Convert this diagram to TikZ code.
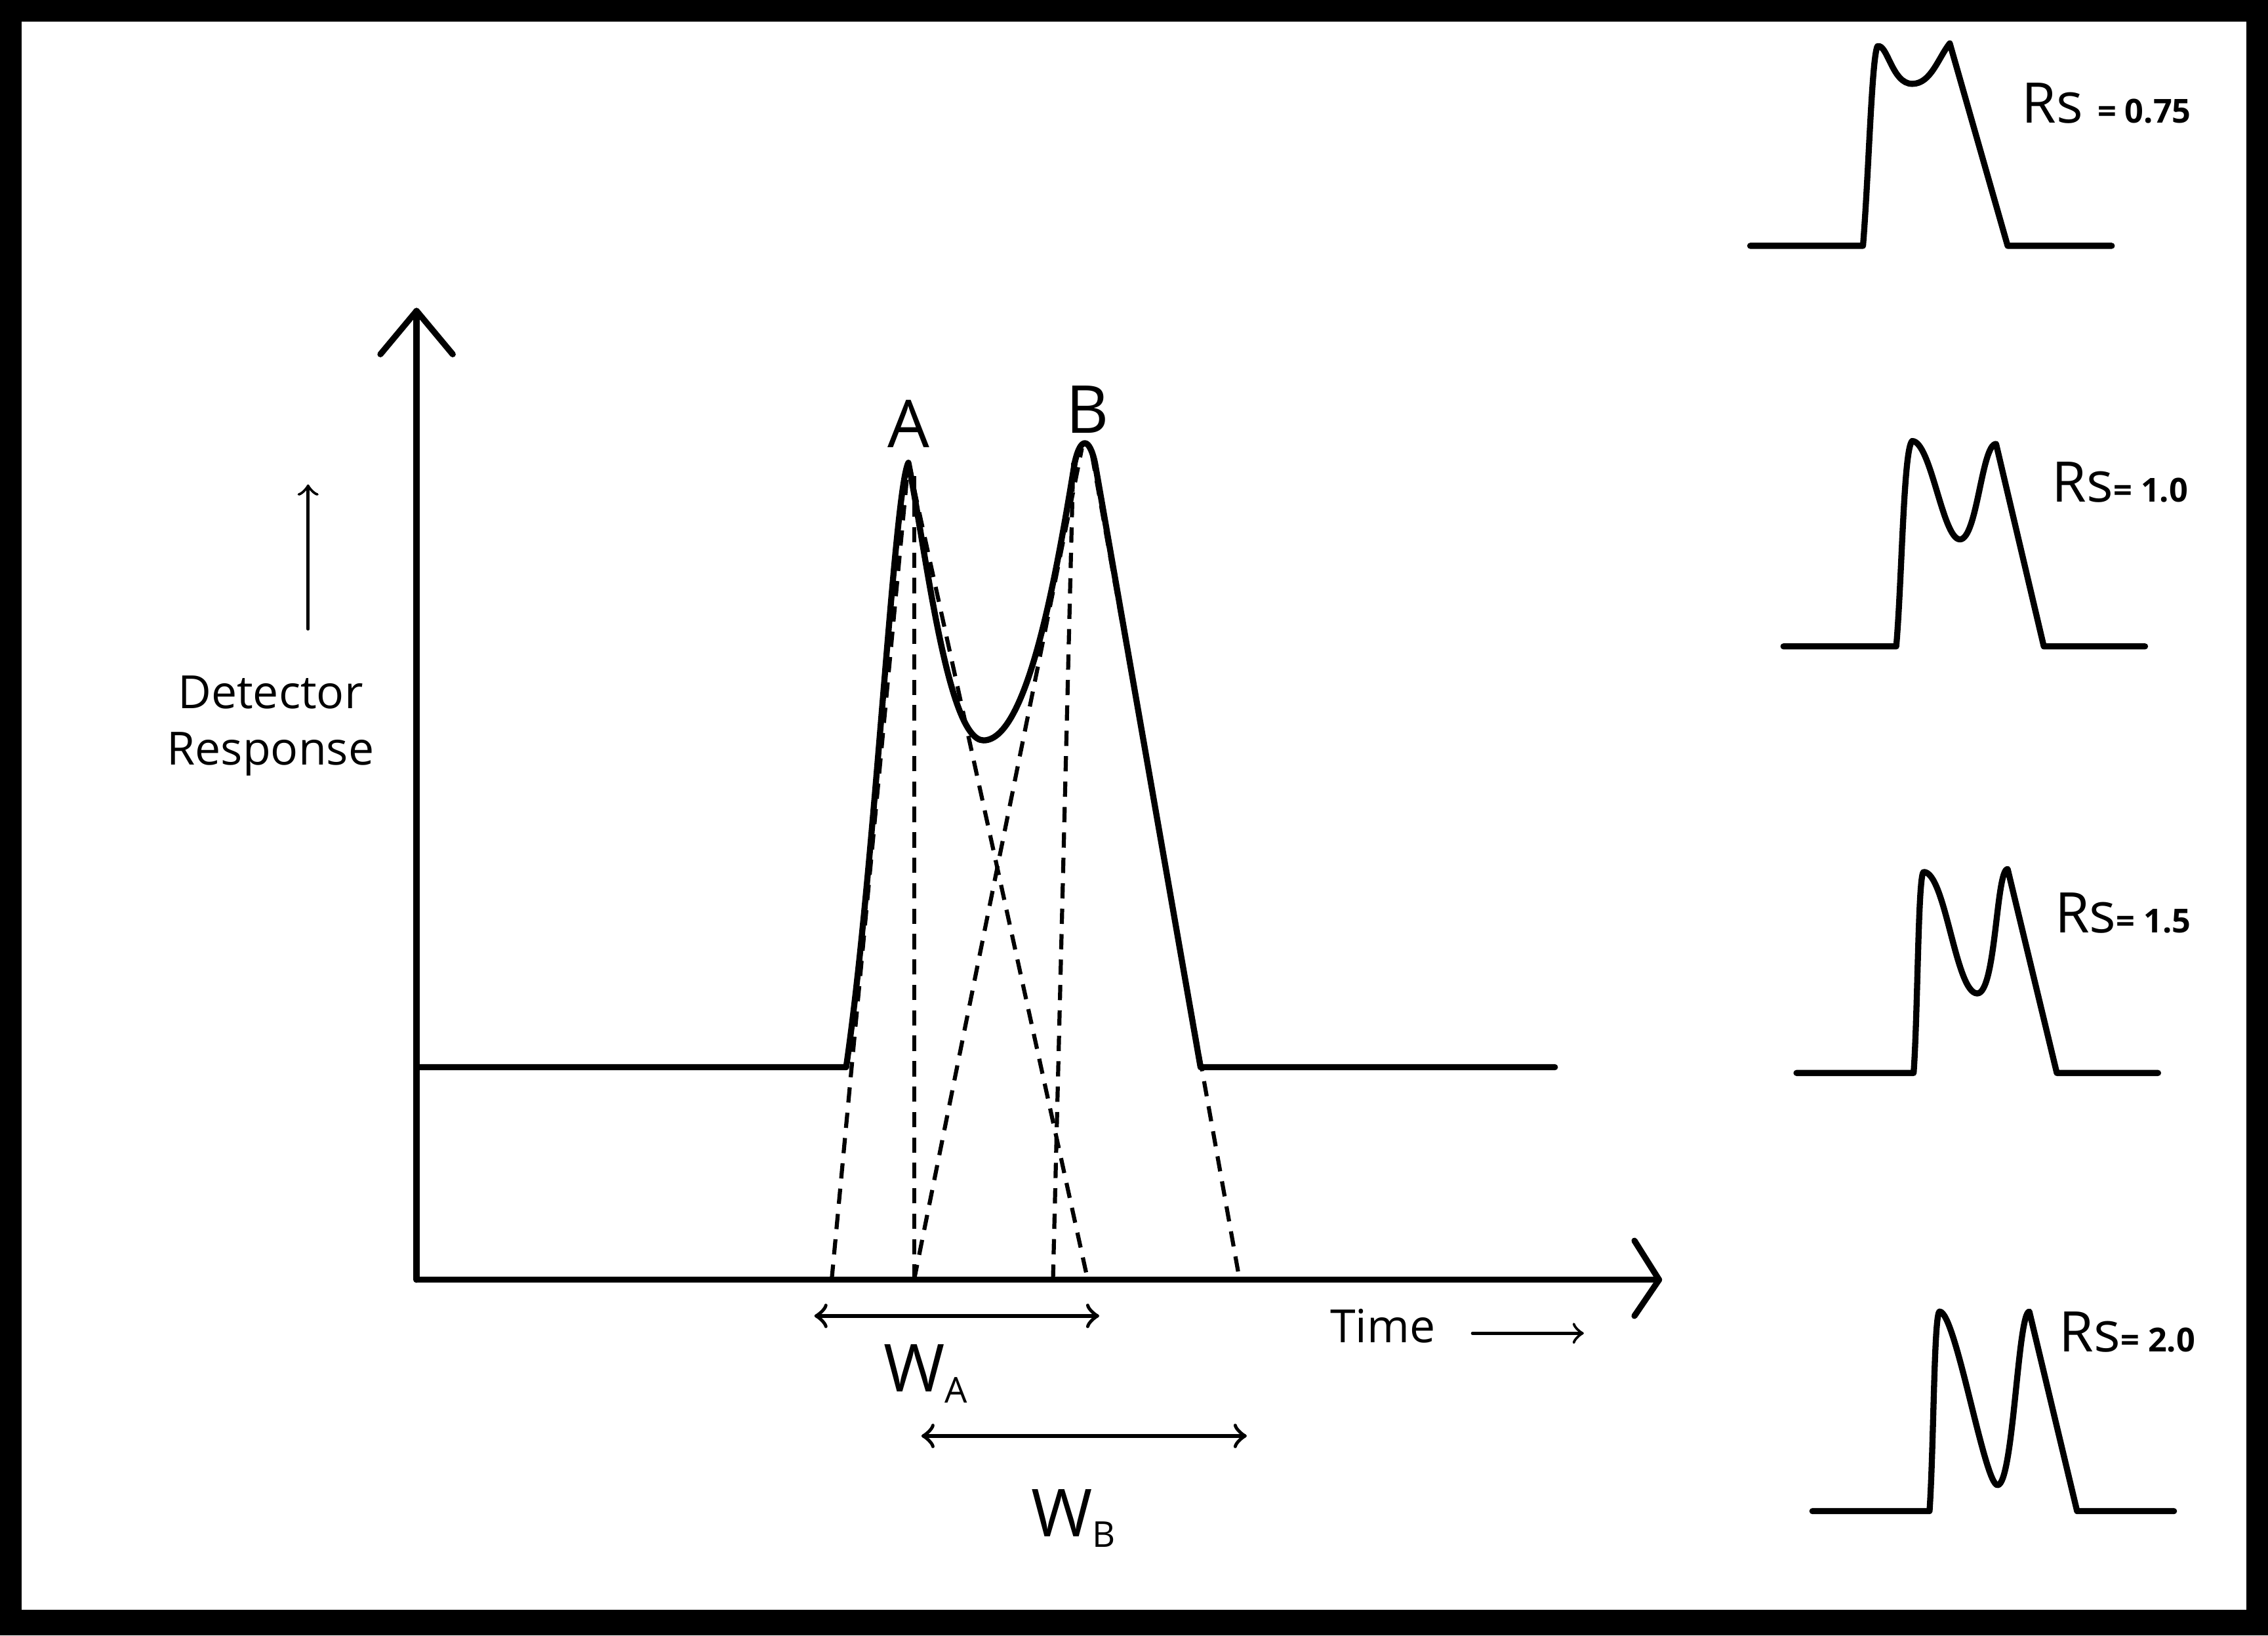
\documentclass[tikz,border=0pt]{standalone}
\usepackage{fontspec}
\setmainfont{Open Sans}
\begin{document}
\begin{tikzpicture}[x=0.01cm, y=-0.01cm, line join=round, line cap=round,
  curve/.style={line width=1.2pt},
  guide/.style={dash pattern=on 3pt off 2pt, line width=0.8pt, line cap=butt},
  lbl/.style={font=\fontsize{9}{11}\selectfont, align=center, inner sep=0pt},
  rs/.style={font=\fontsize{11}{12}\selectfont, inner sep=0pt, anchor=base west}]
  % frame
  \fill[black] (0,0) rectangle (1568,1131);
  \fill[white] (15,15) rectangle (1553,1113);
  \useasboundingbox (0,0) rectangle (1568,1131);

  % axes
  \coordinate (O) at (288,885);
  \coordinate (Ytop) at (288,215);
  \coordinate (Xend) at (1147,885);
  \draw[curve] (O) -- (Ytop);
  \draw[curve] (263,245) -- (Ytop) -- (313,245);
  \draw[curve] (O) -- (Xend);
  \draw[curve] (1130,858) -- (Xend) -- (1130,910);

  % main chromatogram
  \coordinate (A) at (628,320);
  \coordinate (B) at (750,307);
  \coordinate (L) at (585,738);
  \coordinate (R) at (830,738);
  \draw[curve] (288,738) -- (L) .. controls (605,600) and (618,340) .. (A)
    .. controls (640,380) and (655,512) .. (680,512)
    .. controls (710,512) and (730,400) .. (743,320)
    .. controls (747,302) and (753,302) .. (757,320) -- (R) -- (1075,738);

  % tangents and verticals
  \draw[guide] (575,885) -- (A);
  \draw[guide] (632,885) -- (632,325);
  \draw[guide] (A) -- (752,885);
  \draw[guide] (632,885) -- (748,310);
  \draw[guide] (728,885) -- (742,320);
  \draw[guide] (755,315) -- (857,885);

  % labels
  \node[lbl, font=\fontsize{13}{14}\selectfont] (labA) at (628,293) {A};
  \node[lbl, font=\fontsize{13}{14}\selectfont] (labB) at (752,283) {B};
  \node[lbl] (det) at (187,502) {Detector\\Response};
  \draw[->, line width=0.6pt] (213,435) -- (213,335);
  \node[lbl] (time) at (956,917) {Time};
  \draw[->, line width=0.6pt] (1018,922) -- (1095,922);
  \draw[<->, line width=0.8pt] (563,910) -- (760,910);
  \node[lbl, font=\fontsize{13}{14}\selectfont] (wa) at (640,950) {W\raisebox{-0.3ex}{\fontsize{7}{8}\selectfont A}};
  \draw[<->, line width=0.8pt] (637,993) -- (862,993);
  \node[lbl, font=\fontsize{13}{14}\selectfont] (wb) at (742,1050) {W\raisebox{-0.3ex}{\fontsize{7}{8}\selectfont B}};

  % resolution examples
  \draw[curve] (1210,170) -- (1288,170) .. controls (1292,120) and (1294,40) .. (1298,32)
    .. controls (1305,30) and (1308,58) .. (1322,58)
    .. controls (1335,58) and (1340,40) .. (1348,30) -- (1388,170) -- (1460,170);
  \node[rs] (rs1) at (1397,85) {Rs \textbf{\fontsize{6.5}{7}\selectfont = 0.75}};

  \draw[curve] (1233,447) -- (1311,447) .. controls (1315,400) and (1316,310) .. (1322,305)
    .. controls (1335,305) and (1343,373) .. (1355,373)
    .. controls (1367,373) and (1370,307) .. (1380,307) -- (1413,447) -- (1483,447);
  \node[rs] (rs2) at (1418,347) {Rs\textbf{\fontsize{6.5}{7}\selectfont = 1.0}};

  \draw[curve] (1242,742) -- (1323,742) .. controls (1326,700) and (1326,603) .. (1330,603)
    .. controls (1345,603) and (1352,687) .. (1367,687)
    .. controls (1380,687) and (1380,601) .. (1388,601) -- (1422,742) -- (1492,742);
  \node[rs] (rs3) at (1420,645) {Rs\textbf{\fontsize{6.5}{7}\selectfont = 1.5}};

  \draw[curve] (1253,1045) -- (1334,1045) .. controls (1337,1000) and (1337,907) .. (1341,907)
    .. controls (1352,907) and (1372,1027) .. (1381,1027)
    .. controls (1392,1027) and (1395,907) .. (1403,907) -- (1436,1045) -- (1503,1045);
  \node[rs] (rs4) at (1423,935) {Rs\textbf{\fontsize{6.5}{7}\selectfont = 2.0}};
\end{tikzpicture}
\end{document}
